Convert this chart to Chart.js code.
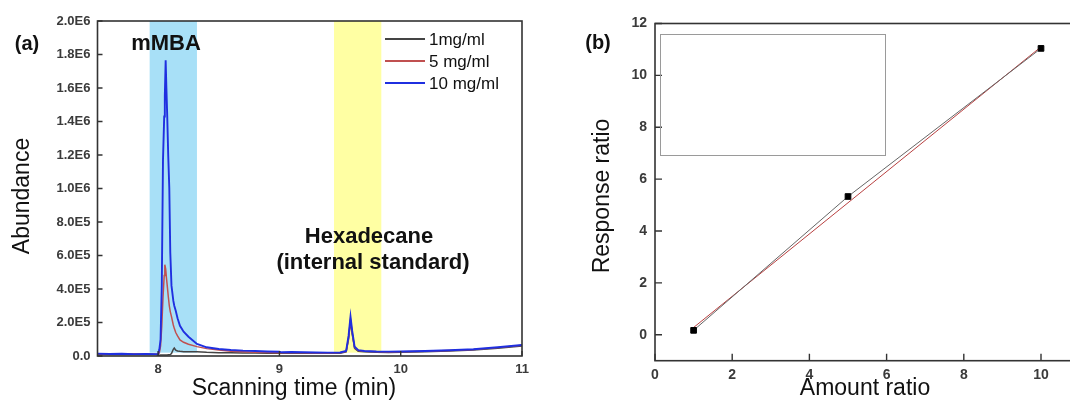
<!DOCTYPE html>
<html>
<head>
<meta charset="utf-8">
<script src="https://cdn.jsdelivr.net/npm/chart.js@4.4.1/dist/chart.umd.min.js"></script>
<style>
  html, body { margin: 0; padding: 0; background: #fff; overflow: hidden; width: 1070px; height: 401px; }
  #wrapA { position: absolute; left: 0; top: 0; width: 540px; height: 401px; }
  #wrapB { position: absolute; left: 540px; top: 0; width: 560px; height: 401px; }
</style>
</head>
<body>
<div id="wrapA"><canvas id="chromChart" width="540" height="401"></canvas></div>
<div id="wrapB"><canvas id="calibChart" width="560" height="401"></canvas></div>
<script>
// (a) chromatogram, scanning time in min
const times = [7.50, 7.60, 7.70, 7.80, 7.90, 7.98, 8.00, 8.01, 8.02, 8.03,
  8.04, 8.05, 8.055, 8.062, 8.068, 8.075, 8.083, 8.092, 8.10, 8.11,
  8.125, 8.133, 8.145, 8.16, 8.18, 8.21, 8.25, 8.32, 8.40, 8.50,
  8.60, 8.70, 8.80, 8.90, 9.00, 9.02, 9.10, 9.20, 9.30, 9.40,
  9.50, 9.55, 9.57, 9.586, 9.60, 9.62, 9.65, 9.70, 9.80, 9.90,
  10.00, 10.20, 10.40, 10.60, 10.80, 11.00];

const abund1mg = [10000, 9000, 10000, 9000, 9000, 9000, 6000, 5000, 6000, 6000,
  6000, 6000, 6000, 6000, 6000, 6000, 7000, 8000, 9000, 15000,
  40000, 48000, 35000, 30000, 28000, 26000, 26000, 25000, 22000, 20000,
  19000, 18000, 18000, 17000, 17000, 16000, 17000, 16000, 16000, 16000,
  17000, 25000, 100000, 210000, 130000, 45000, 28000, 25000, 22000, 21000,
  22000, 25000, 30000, 36000, 47000, 60000];

const abund5mg = [13000, 12000, 12000, 12000, 11000, 11000, 11000, 20000, 60000, 180000,
  350000, 480000, 545000, 520000, 470000, 420000, 360000, 300000, 265000, 235000,
  185000, 165000, 140000, 120000, 96000, 82000, 70000, 56000, 44000, 36000,
  28000, 25000, 23000, 21000, 20000, 19000, 20000, 19000, 18000, 18000,
  19000, 27000, 110000, 220000, 140000, 50000, 32000, 28000, 25000, 24000,
  25000, 28000, 33000, 39000, 50000, 64000];

const abund10mg = [14000, 12000, 13000, 11000, 12000, 11000, 12000, 40000, 100000, 420000,
  1170000, 1430000, 1550000, 1766000, 1600000, 1430000, 1200000, 1000000, 620000, 420000,
  330000, 300000, 270000, 225000, 180000, 145000, 115000, 72000, 52000, 42000,
  36000, 32000, 30000, 27000, 25000, 22000, 24000, 22000, 21000, 20000,
  21000, 30000, 120000, 235000, 150000, 55000, 35000, 30000, 27000, 26000,
  27000, 30000, 34000, 40000, 52000, 66000];

const seriesLabels = ['1mg/ml', '5 mg/ml', '10 mg/ml'];
const timeTicks = [8, 9, 10, 11];
const abundTicks = [0, 2e5, 4e5, 6e5, 8e5, 1e6, 1.2e6, 1.4e6, 1.6e6, 1.8e6, 2e6];
const abundTickLabels = ['0.0', '2.0E5', '4.0E5', '6.0E5', '8.0E5', '1.0E6', '1.2E6', '1.4E6', '1.6E6', '1.8E6', '2.0E6'];
const mmbaWindow = [7.93, 8.32];
const hexadecaneWindow = [9.45, 9.84];

// (b) calibration
const amountRatio = [1, 5, 10];
const responseRatio = [0.17, 5.33, 11.04];
const fitAmount = [1, 10];
const fitResponse = [0.28, 11.1];
const amountTicks = [0, 2, 4, 6, 8, 10];
const responseTicks = [0, 2, 4, 6, 8, 10, 12];

const FONT = "Arial, 'Liberation Sans', sans-serif";
const lineColors = ['#444444', '#c05050', '#1f2fe0'];

const frameTicks = (len) => ({
  id: 'frameTicks',
  afterDatasetsDraw(chart) {
    const { ctx, chartArea: a, scales } = chart;
    ctx.save();
    ctx.strokeStyle = '#333';
    ctx.lineWidth = 1.6;
    ctx.strokeRect(a.left, a.top, a.right - a.left, a.bottom - a.top);
    ctx.lineWidth = 1.4;
    ctx.beginPath();
    scales.x.ticks.forEach(t => {
      const px = scales.x.getPixelForValue(t.value);
      ctx.moveTo(px, a.bottom);
      ctx.lineTo(px, a.bottom - len);
    });
    scales.y.ticks.forEach(t => {
      const py = scales.y.getPixelForValue(t.value);
      ctx.moveTo(a.left, py);
      ctx.lineTo(a.left + len, py);
    });
    ctx.stroke();
    ctx.restore();
  }
});

const labels = (items) => ({
  id: 'labels',
  afterDraw(chart) {
    const ctx = chart.ctx;
    ctx.save();
    ctx.fillStyle = '#111';
    ctx.textAlign = 'center';
    ctx.textBaseline = 'middle';
    items.forEach(it => {
      ctx.font = it.font;
      if (it.rot) {
        ctx.save();
        ctx.translate(it.x, it.y);
        ctx.rotate(-Math.PI / 2);
        ctx.fillText(it.text, 0, 0);
        ctx.restore();
      } else {
        ctx.fillText(it.text, it.x, it.y);
      }
    });
    ctx.restore();
  }
});

const bands = {
  id: 'bands',
  beforeDatasetsDraw(chart) {
    const { ctx, scales: { x, y } } = chart;
    const yTop = y.getPixelForValue(2e6);
    const yBot = y.getPixelForValue(2e4);
    ctx.save();
    ctx.fillStyle = '#a8e0f7';
    ctx.fillRect(x.getPixelForValue(mmbaWindow[0]), yTop,
      x.getPixelForValue(mmbaWindow[1]) - x.getPixelForValue(mmbaWindow[0]), yBot - yTop);
    ctx.fillStyle = '#ffffa3';
    ctx.fillRect(x.getPixelForValue(hexadecaneWindow[0]), yTop,
      x.getPixelForValue(hexadecaneWindow[1]) - x.getPixelForValue(hexadecaneWindow[0]), yBot - yTop);
    ctx.restore();
  }
};

const insideLegend = {
  id: 'insideLegend',
  afterDraw(chart) {
    const { ctx, chartArea: a } = chart;
    ctx.save();
    ctx.font = '17px ' + FONT;
    ctx.textAlign = 'left';
    ctx.textBaseline = 'middle';
    seriesLabels.forEach((lab, i) => {
      const y = a.top + 18 + 22 * i;
      const x0 = a.right - 137;
      ctx.strokeStyle = lineColors[i];
      ctx.lineWidth = 1.8;
      ctx.beginPath();
      ctx.moveTo(x0, y);
      ctx.lineTo(x0 + 40, y);
      ctx.stroke();
      ctx.fillStyle = '#111';
      ctx.fillText(lab, x0 + 44, y + 1);
    });
    ctx.restore();
  }
};

const emptyBox = {
  id: 'emptyBox',
  afterDraw(chart) {
    const { ctx, scales: { x, y } } = chart;
    const x0 = x.getPixelForValue(0.13), x1 = x.getPixelForValue(5.96);
    const y0 = y.getPixelForValue(11.61), y1 = y.getPixelForValue(6.93);
    ctx.save();
    ctx.strokeStyle = '#9a9a9a';
    ctx.lineWidth = 1;
    ctx.strokeRect(Math.round(x0) + 0.5, Math.round(y0) + 0.5, Math.round(x1 - x0), Math.round(y1 - y0));
    ctx.restore();
  }
};

const tickFont = { family: FONT, size: 13, weight: 'bold' };

const chromSets = [abund1mg, abund5mg, abund10mg].map((vals, i) => ({
  label: seriesLabels[i],
  data: times.map((t, k) => ({ x: t, y: vals[k] })),
  borderColor: lineColors[i],
  borderWidth: i === 2 ? 1.9 : 1.5,
  pointRadius: 0,
  tension: 0,
  order: 2 - i
}));

new Chart(document.getElementById('chromChart'), {
  type: 'line',
  data: { datasets: chromSets },
  options: {
    responsive: false,
    animation: false,
    layout: { padding: { left: 0, top: 21, right: 18, bottom: 0 } },
    plugins: { legend: { display: false }, tooltip: { enabled: false } },
    scales: {
      x: {
        type: 'linear', min: 7.5, max: 11,
        grid: { display: false, drawTicks: false },
        border: { display: false },
        afterBuildTicks: s => { s.ticks = timeTicks.map(v => ({ value: v })); },
        afterFit: s => { s.height = 45; },
        ticks: { font: tickFont, color: '#3a3a3a', padding: 6, maxRotation: 0 }
      },
      y: {
        type: 'linear', min: 0, max: 2e6,
        grid: { display: false, drawTicks: false },
        border: { display: false },
        afterBuildTicks: s => { s.ticks = abundTicks.map(v => ({ value: v })); },
        afterFit: s => { s.width = 97.5; },
        ticks: {
          font: tickFont, color: '#3a3a3a', padding: 7,
          callback: v => abundTickLabels[abundTicks.indexOf(v)]
        }
      }
    }
  },
  plugins: [bands, frameTicks(5), insideLegend, labels([
    { text: '(a)', x: 27, y: 44, font: 'bold 20px ' + FONT },
    { text: 'mMBA', x: 166, y: 44, font: 'bold 22px ' + FONT },
    { text: 'Hexadecane', x: 369, y: 237, font: 'bold 22px ' + FONT },
    { text: '(internal standard)', x: 373, y: 263, font: 'bold 22px ' + FONT },
    { text: 'Abundance', x: 23, y: 196, font: '23px ' + FONT, rot: true },
    { text: 'Scanning time (min)', x: 294, y: 389, font: '23px ' + FONT }
  ])]
});

new Chart(document.getElementById('calibChart'), {
  type: 'scatter',
  data: {
    datasets: [
      {
        label: 'measured',
        data: amountRatio.map((v, i) => ({ x: v, y: responseRatio[i] })),
        showLine: true,
        borderColor: '#666',
        borderWidth: 1,
        backgroundColor: '#000',
        pointBorderColor: '#000',
        pointStyle: 'rect',
        pointRadius: 4,
        order: 0
      },
      {
        label: 'fit',
        data: fitAmount.map((v, i) => ({ x: v, y: fitResponse[i] })),
        showLine: true,
        borderColor: '#b84040',
        borderWidth: 1,
        pointRadius: 0,
        order: 1
      }
    ]
  },
  options: {
    responsive: false,
    animation: false,
    layout: { padding: { left: 0, top: 23.5, right: 20.4, bottom: 0 } },
    plugins: { legend: { display: false }, tooltip: { enabled: false } },
    scales: {
      x: {
        type: 'linear', min: 0, max: 11,
        grid: { display: false, drawTicks: false },
        border: { display: false },
        afterBuildTicks: s => { s.ticks = amountTicks.map(v => ({ value: v })); },
        afterFit: s => { s.height = 40.3; },
        ticks: { font: { family: FONT, size: 14, weight: 'bold' }, color: '#3a3a3a', padding: 6, maxRotation: 0 }
      },
      y: {
        type: 'linear', min: -1, max: 12,
        grid: { display: false, drawTicks: false },
        border: { display: false },
        afterBuildTicks: s => { s.ticks = responseTicks.map(v => ({ value: v })); },
        afterFit: s => { s.width = 115; },
        ticks: { font: { family: FONT, size: 14, weight: 'bold' }, color: '#3a3a3a', padding: 8 }
      }
    }
  },
  plugins: [frameTicks(7), emptyBox, labels([
    { text: '(b)', x: 58, y: 43, font: 'bold 20px ' + FONT },
    { text: 'Response ratio', x: 63, y: 196, font: '23px ' + FONT, rot: true },
    { text: 'Amount ratio', x: 325, y: 389, font: '23px ' + FONT }
  ])]
});
</script>
</body>
</html>
